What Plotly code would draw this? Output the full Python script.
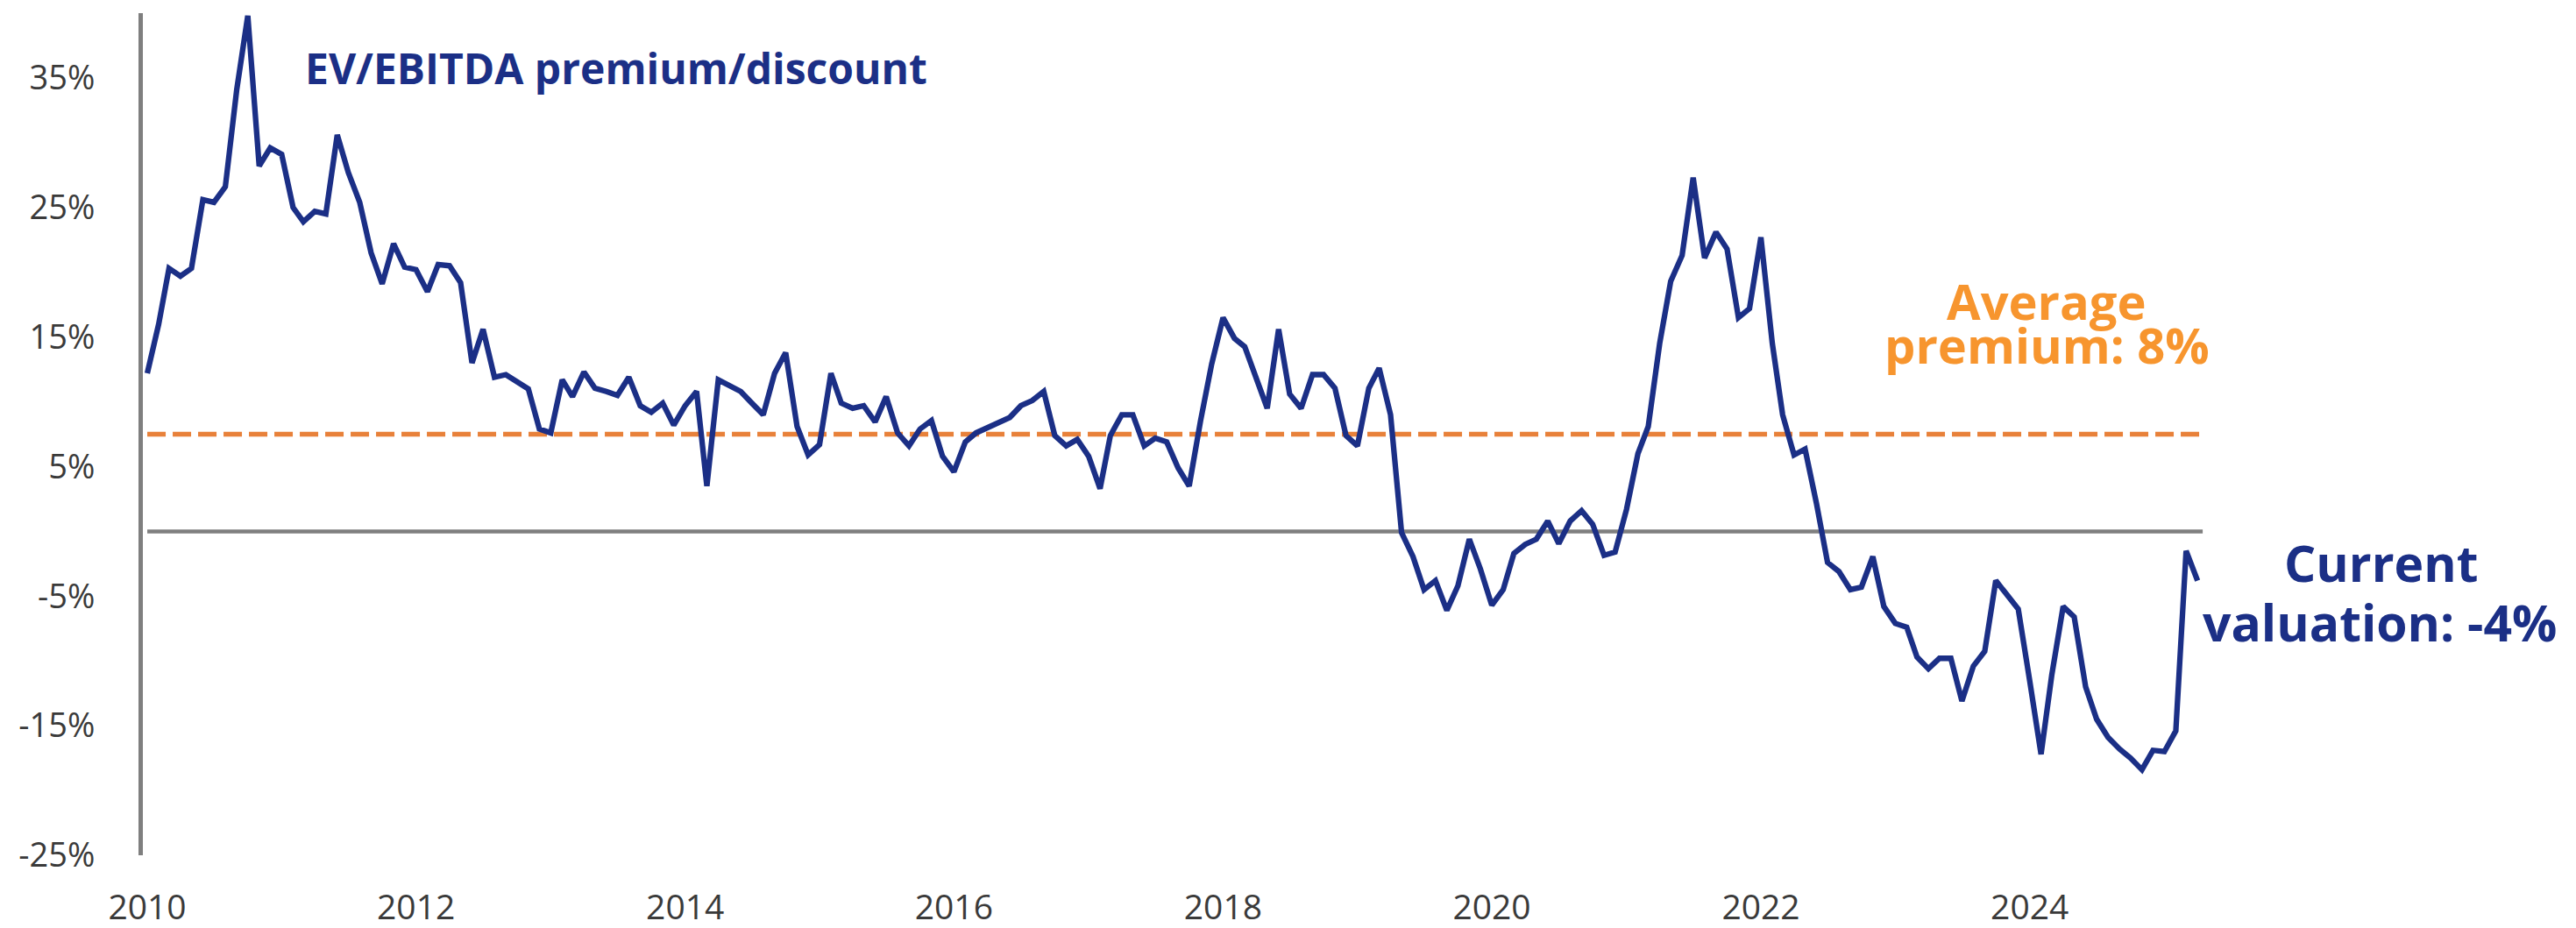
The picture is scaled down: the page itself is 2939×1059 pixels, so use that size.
import pandas as pd
import plotly.graph_objects as go

# ---- data (monthly, %) ----
start_month = "2010-01-01"
v2010 = [12.2, 16.0, 20.3, 19.7, 20.3, 25.6, 25.4, 26.6, 34.1, 39.8, 28.2, 29.6]
v2011 = [29.1, 25.0, 23.9, 24.7, 24.5, 30.6, 27.7, 25.4, 21.5, 19.1, 22.2, 20.4]
v2012 = [20.2, 18.5, 20.6, 20.5, 19.2, 13.0, 15.6, 11.9, 12.1, 11.5, 11.0, 7.9]
v2013 = [7.6, 11.7, 10.4, 12.3, 11.05, 10.8, 10.5, 11.9, 9.7, 9.2, 9.9, 8.2]
v2014 = [9.7, 10.8, 3.5, 11.7, 11.2, 10.8, 9.9, 9.0, 12.2, 13.8, 8.1, 5.9]
v2015 = [6.7, 12.2, 9.9, 9.5, 9.7, 8.45, 10.4, 7.6, 6.6, 7.9, 8.55, 5.8]
v2016 = [4.6, 6.9, 7.6, 8.0, 8.3, 8.8, 9.7, 10.1, 10.8, 7.4, 6.6, 7.1]
v2017 = [5.8, 3.3, 7.4, 9.0, 9.0, 6.6, 7.2, 6.9, 4.9, 3.5, 8.55, 12.9]
v2018 = [16.5, 14.9, 14.25, 11.7, 9.5, 15.6, 10.6, 9.5, 12.1, 12.1, 11.05, 7.4]
v2019 = [6.6, 11.05, 12.6, 9.0, -0.1, -1.95, -4.5, -3.8, -6.1, -4.2, -0.6, -2.9]
v2020 = [-5.7, -4.5, -1.7, -1.0, -0.6, 0.8, -0.95, 0.8, 1.6, 0.55, -1.85, -1.6]
v2021 = [1.7, 6.0, 8.1, 14.5, 19.3, 21.3, 27.3, 21.1, 23.1, 21.8, 16.5, 17.2]
v2022 = [22.7, 14.5, 9.0, 5.9, 6.35, 2.15, -2.4, -3.1, -4.5, -4.3, -1.95, -5.8]
v2023 = [-7.1, -7.4, -9.7, -10.6, -9.8, -9.8, -13.1, -10.4, -9.25, -3.8, -4.9, -6.0]
v2024 = [-11.5, -17.2, -11.1, -5.8, -6.6, -12.0, -14.5, -15.9, -16.8, -17.5, -18.4, -16.9]
v2025 = [-17.0, -15.4, -1.5, -3.8]

average_premium = 7.5
line_start = "2010-01-01"
line_end = "2025-04-15"

y_tick_vals = [-25, -15, -5, 5, 15, 25, 35]
y_tick_text = ["-25%", "-15%", "-5%", "5%", "15%", "25%", "35%"]
x_tick_vals = ["2010-01-01", "2012-01-01", "2014-01-01", "2016-01-01",
               "2018-01-01", "2020-01-01", "2022-01-01", "2024-01-01"]
x_tick_text = ["2010", "2012", "2014", "2016", "2018", "2020", "2022", "2024"]

title_text = "EV/EBITDA premium/discount"
avg_line1, avg_line2 = "Average", "premium: 8%"
cur_line1, cur_line2 = "Current", "valuation: -4%"

values = (v2010 + v2011 + v2012 + v2013 + v2014 + v2015 + v2016 + v2017 +
          v2018 + v2019 + v2020 + v2021 + v2022 + v2023 + v2024 + v2025)
dates = pd.date_range(start_month, periods=len(values), freq="MS")

# ---- styles ----
NAVY = "#1B2F86"
ORANGE_LINE = "#E8813A"
ORANGE_TEXT = "#F7952E"
GRAY = "#7F7F7F"
TICK = "#3A3A3A"
W, H = 2939, 1059
L, R, T, B = 163, 0, 15, 83
PW, PH = W - L - R, H - T - B


def px(xp):
    return (xp - L) / PW


def py(yp):
    return (H - B - yp) / PH


fig = go.Figure()
fig.add_trace(go.Scatter(x=dates, y=values, mode="lines",
                         line=dict(color=NAVY, width=6.3), hoverinfo="skip",
                         showlegend=False))

fig.add_shape(type="line", xref="x", yref="y", x0=line_start, x1=line_end,
              y0=0, y1=0, line=dict(color=GRAY, width=4.5), layer="below")
fig.add_shape(type="line", xref="x", yref="y", x0=line_start, x1=line_end,
              y0=average_premium, y1=average_premium,
              line=dict(color=ORANGE_LINE, width=5.5, dash="21px,8px"), layer="below")

bold = "Open Sans"
fig.add_annotation(text=f"<b>{title_text}</b>", xref="paper", yref="paper",
                   x=px(346), y=py(77), xanchor="left", yanchor="middle",
                   showarrow=False, font=dict(family=bold, size=48, color=NAVY))
fig.add_annotation(text=f"<b>{avg_line1}</b>", xref="paper", yref="paper",
                   x=px(2335), y=py(343), xanchor="center", yanchor="middle",
                   showarrow=False, font=dict(family=bold, size=56, color=ORANGE_TEXT))
fig.add_annotation(text=f"<b>{avg_line2}</b>", xref="paper", yref="paper",
                   x=px(2335), y=py(393), xanchor="center", yanchor="middle",
                   showarrow=False, font=dict(family=bold, size=56, color=ORANGE_TEXT))
fig.add_annotation(text=f"<b>{cur_line1}</b>", xref="paper", yref="paper",
                   x=px(2716), y=py(642), xanchor="center", yanchor="middle",
                   showarrow=False, font=dict(family=bold, size=57, color=NAVY))
fig.add_annotation(text=f"<b>{cur_line2}</b>", xref="paper", yref="paper",
                   x=px(2715), y=py(710), xanchor="center", yanchor="middle",
                   showarrow=False, font=dict(family=bold, size=57, color=NAVY))

fig.update_layout(
    width=W, height=H,
    margin=dict(l=L, r=R, t=T, b=B, autoexpand=False),
    paper_bgcolor="white", plot_bgcolor="white",
    showlegend=False,
    font=dict(family="Open Sans", size=38, color=TICK),
)
fig.update_xaxes(type="date", range=["2009-12-20", "2028-01-24"],
                 tickvals=x_tick_vals, ticktext=x_tick_text,
                 showgrid=False, zeroline=False, showline=False, ticks="",
                 ticklabelstandoff=33,
                 tickfont=dict(family="Open Sans", size=39, color=TICK))
fig.update_yaxes(range=[-25, 40], tickvals=y_tick_vals, ticktext=y_tick_text,
                 showgrid=False, zeroline=False, showline=True,
                 linecolor=GRAY, linewidth=5, ticks="",
                 ticklabelstandoff=42,
                 tickfont=dict(family="Open Sans", size=38, color=TICK))

fig.write_html("out.html",
               config={"displayModeBar": False, "staticPlot": True},
               post_script="document.body.style.margin='0px';"
                           "document.body.style.overflow='hidden';")
